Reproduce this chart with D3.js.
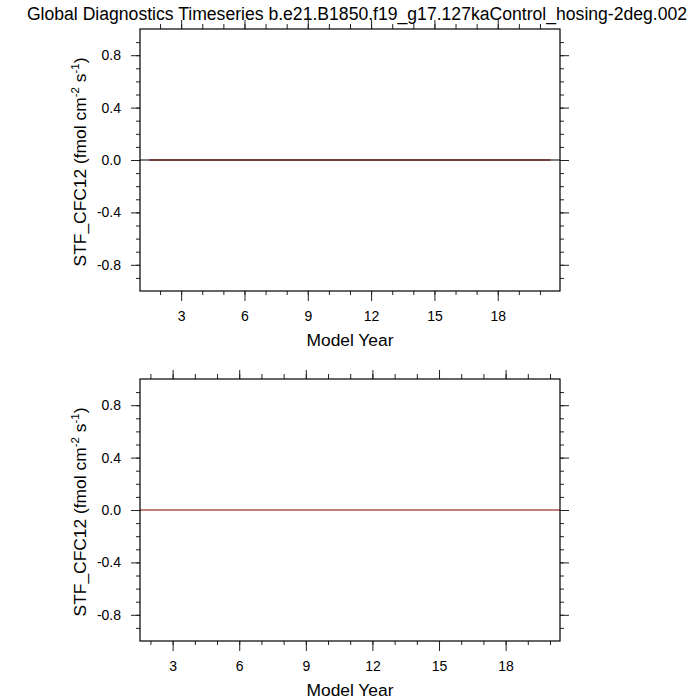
<!DOCTYPE html>
<html>
<head>
<meta charset="utf-8">
<script src="https://cdn.jsdelivr.net/npm/d3@7"></script>
<style>
  body { margin: 0; background: #fff; }
  svg { font-family: "Liberation Sans", Arial, Helvetica, sans-serif; }
</style>
</head>
<body>
<div id="chart"></div>
<script>
const title = "Global Diagnostics Timeseries b.e21.B1850.f19_g17.127kaControl_hosing-2deg.002"

// top panel: annual means
const yearsTop = [1.5, 2.5, 3.5, 4.5, 5.5, 6.5, 7.5, 8.5, 9.5, 10.5,
                  11.5, 12.5, 13.5, 14.5, 15.5, 16.5, 17.5, 18.5, 19.5, 20.5]
const valuesTop = [0, 0, 0, 0, 0, 0, 0, 0, 0, 0,
                   0, 0, 0, 0, 0, 0, 0, 0, 0, 0]

// bottom panel
const yearsBottom = [1.53, 2.5, 3.5, 4.5, 5.5, 6.5, 7.5, 8.5, 9.5, 10.5,
                     11.5, 12.5, 13.5, 14.5, 15.5, 16.5, 17.5, 18.5, 19.5, 20.45]
const valuesBottom = [0, 0, 0, 0, 0, 0, 0, 0, 0, 0,
                      0, 0, 0, 0, 0, 0, 0, 0, 0, 0]

const xTicks = [3, 6, 9, 12, 15, 18]
const yTicks = [-0.8, -0.4, 0, 0.4, 0.8]
const yLabel = "STF_CFC12 (fmol cm"
const xLabel = "Model Year"

const width = 700, height = 700
const box = {left: 140, right: 560}
const fmtY = d => d3.format(".1f")(d).replace("\u2212", "-")

const svg = d3.select("#chart").append("svg")
  .attr("width", width)
  .attr("height", height)

svg.append("text")
  .attr("x", 357).attr("y", 20)
  .attr("text-anchor", "middle")
  .attr("font-size", 17.6)
  .text(title)

function drawPanel(top, bottom, xDomain, xs, ys, lineColor, zeroLine) {
  const x = d3.scaleLinear().domain(xDomain).range([box.left, box.right])
  const y = d3.scaleLinear().domain([-1, 1]).range([bottom, top])
  const g = svg.append("g")

  const minorX = d3.range(Math.ceil(xDomain[0]), Math.floor(xDomain[1]) + 1)
  const minorY = d3.range(-9, 10).map(d => d / 10)

  // zero reference line
  if (zeroLine) {
    g.append("line")
      .attr("x1", box.left).attr("x2", box.right)
      .attr("y1", y(0)).attr("y2", y(0))
      .attr("stroke", "#000").attr("stroke-width", 1)
  }

  // data
  const line = d3.line().x((d, i) => x(xs[i])).y(d => y(d))
  g.append("path")
    .datum(ys)
    .attr("fill", "none")
    .attr("stroke", lineColor)
    .attr("stroke-width", 1.3)
    .attr("d", line)

  // axes: ticks point outward, labels only left / bottom
  const axes = [
    [d3.axisBottom(x).tickValues(minorX).tickSize(4).tickFormat(() => ""), `translate(0,${bottom})`],
    [d3.axisTop(x).tickValues(minorX).tickSize(5).tickFormat(() => ""), `translate(0,${top})`],
    [d3.axisLeft(y).tickValues(minorY).tickSize(4).tickFormat(() => ""), `translate(${box.left},0)`],
    [d3.axisRight(y).tickValues(minorY).tickSize(4).tickFormat(() => ""), `translate(${box.right},0)`],
    [d3.axisBottom(x).tickValues(xTicks).tickSize(10).tickPadding(10).tickFormat(d3.format("d")), `translate(0,${bottom})`],
    [d3.axisTop(x).tickValues(xTicks).tickSize(9).tickFormat(() => ""), `translate(0,${top})`],
    [d3.axisLeft(y).tickValues(yTicks).tickSize(9).tickPadding(10).tickFormat(fmtY), `translate(${box.left},0)`],
    [d3.axisRight(y).tickValues(yTicks).tickSize(9).tickFormat(() => ""), `translate(${box.right},0)`]
  ]
  axes.forEach(([ax, tr]) => {
    const a = g.append("g").attr("transform", tr).call(ax)
    a.attr("font-size", 14).attr("font-family", null)
    a.select(".domain").remove()
    a.selectAll("line").attr("stroke", "#222")
    a.selectAll("text").style("font-size", "14px").attr("fill", "#000")
  })

  // frame
  g.append("rect")
    .attr("x", box.left).attr("y", top)
    .attr("width", box.right - box.left).attr("height", bottom - top)
    .attr("fill", "none").attr("stroke", "#000").attr("stroke-width", 1.2)

  // y label with superscripts
  const yl = g.append("text")
    .attr("transform", `translate(86,${(top + bottom) / 2 + 2}) rotate(-90)`)
    .attr("text-anchor", "middle")
    .attr("font-size", 17.4)
  yl.append("tspan").text(yLabel)
  yl.append("tspan").attr("dy", -7).attr("font-size", 11.5).text("-2")
  yl.append("tspan").attr("dy", 7).text(" s")
  yl.append("tspan").attr("dy", -7).attr("font-size", 11.5).text("-1")
  yl.append("tspan").attr("dy", 7).text(")")

  g.append("text")
    .attr("x", 350).attr("y", bottom + 55)
    .attr("text-anchor", "middle")
    .attr("font-size", 17.4)
    .text(xLabel)
}

drawPanel(29, 291, [1.05, 20.95], yearsTop, valuesTop, "#6e2727", true)
drawPanel(379, 641, [1.53, 20.45], yearsBottom, valuesBottom, "#b05252", false)
</script>
</body>
</html>
